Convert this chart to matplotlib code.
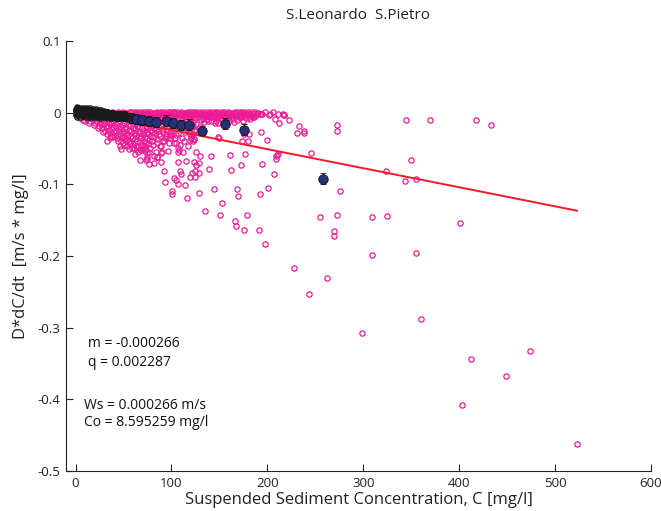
import matplotlib
matplotlib.use("Agg")
import matplotlib.pyplot as plt
import numpy as np

plt.rcParams['font.family'] = ['Open Sans', 'DejaVu Sans']

title = "S.Leonardo  S.Pietro"
xlabel = "Suspended Sediment Concentration, C [mg/l]"
ylabel = "D*dC/dt  [m/s * mg/l]"
xticks = [0, 100, 200, 300, 400, 500, 600]
xtick_labels = ["0", "100", "200", "300", "400", "500", "600"]
yticks = [-0.5, -0.4, -0.3, -0.2, -0.1, 0, 0.1]
ytick_labels = ["-0.5", "-0.4", "-0.3", "-0.2", "-0.1", "0", "0.1"]

slope_m = -0.000266
intercept_q = 0.002287
ws = 0.000266
co = 8.595259

# sparse magenta observations (C, D*dC/dt)
mag_sparse_c = [522.9, 474.3, 448.6, 412.8, 403.4, 359.7, 298.6, 344.8, 370.1, 417.4,
                433.3, 272.2, 272.9, 350.3, 323.2, 343.4, 355.2, 276.0, 254.5, 272.6,
                309.1, 324.3, 401.4, 269.1, 269.1, 308.6, 355.2, 228.1, 262.2, 243.4,
                245.1, 211.1, 208.6, 194.1, 207.0, 200.7, 192.4, 178.4, 165.9, 167.7,
                175.7, 190.9, 197.9, 168.4, 169.8, 172.9, 176.4, 161.5, 162.2, 200.0,
                193.0, 230.9, 237.8, 238.5, 233.0, 222.6, 212.5, 208.3, 201.8, 217.0,
                174.0, 179.9, 181.3, 140.9, 138.9, 152.8, 144.5, 150.7, 135.4, 116.4,
                128.4, 100.7, 101.0, 113.9, 93.0, 106.6, 104.5, 102.4, 119.1, 124.3,
                128.4, 110.4, 109.4, 92.4, 121.6, 124.3, 124.0, 128.4, 125.7, 107.3,
                114.9, 89.6, 81.6, 74.7, 67.4, 85.1, 89.6, 96.6, 76.4, 72.6,
                67.7, 106.6, 107.6, 109.1, 107.0, 126.0, 129.5, 87.8, 89.6, 55.5,
                119.8, 123.2, 99.0, 100.7, 145.5, 137.2, 122.6, 124.0, 122.6, 208.6,
                210.1, 148.2, 149.7, 175.7, 216.4, 217.7,
                35.7, 46.1, 56.6, 65.3, 72.2, 74.0, 83.6, 91.4, 94.8, 105.2, 112.2, 120.8,
                33.0, 38.2, 46.9, 62.5, 76.4, 85.1, 90.3, 73.5, 82.0]
mag_sparse_d = [-0.4626, -0.3324, -0.3668, -0.3435, -0.4082, -0.2877, -0.3073, -0.0107, -0.0102, -0.0102,
                -0.0167, -0.0172, -0.0261, -0.0656, -0.0813, -0.0953, -0.0925, -0.1092, -0.1450, -0.1432,
                -0.1450, -0.1437, -0.1534, -0.1650, -0.1715, -0.1980, -0.1953, -0.2162, -0.2305, -0.2534,
                -0.0568, -0.0582, -0.0642, -0.0715, -0.0851, -0.1050, -0.1130, -0.1427, -0.1506, -0.1586,
                -0.1642, -0.1632, -0.1827, -0.1070, -0.1158, -0.0729, -0.0572, -0.0586, -0.0795, -0.0377,
                -0.0269, -0.0283, -0.0289, -0.0251, -0.0191, -0.0102, -0.0144, -0.0084, -0.0028, -0.0028,
                -0.0395, -0.0395, -0.0303, -0.0604, -0.0785, -0.1255, -0.1060, -0.1432, -0.1377, -0.1195,
                -0.1116, -0.1088, -0.1139, -0.1008, -0.0972, -0.0990, -0.0939, -0.0911, -0.0897, -0.0902,
                -0.0847, -0.0861, -0.0809, -0.0819, -0.0837, -0.0813, -0.0693, -0.0702, -0.0729, -0.0683,
                -0.0674, -0.0688, -0.0702, -0.0642, -0.0660, -0.0614, -0.0562, -0.0540, -0.0554, -0.0502,
                -0.0506, -0.0544, -0.0516, -0.0450, -0.0492, -0.0544, -0.0604, -0.0470, -0.0460, -0.0512,
                -0.0381, -0.0367, -0.0321, -0.0311, -0.0149, -0.0084, -0.0293, -0.0363, -0.0400, -0.0609,
                -0.0586, -0.0344, -0.0358, -0.0297, -0.0018, -0.0032,
                -0.036, -0.046, -0.043, -0.048, -0.053, -0.062, -0.055, -0.039, -0.032, -0.043, -0.055, -0.036,
                -0.039, -0.034, -0.051, -0.058, -0.072, -0.062, -0.055, -0.066, -0.060]

# dense magenta band near zero
mag_band_c = [38, 44, 49, 53, 57, 61, 64, 68, 71, 75, 78, 82, 85, 89, 92, 96, 99, 103, 106, 110,
              113, 117, 120, 124, 127, 131, 134, 138, 141, 145, 148, 152, 155, 159, 162, 166, 169, 173, 176, 180,
              184, 187, 190, 194, 198, 203, 206, 211,
              42, 47, 51, 55, 59, 63, 66, 70, 73, 77, 80, 84, 87, 91, 94, 98, 101, 105, 108, 112,
              115, 119, 122, 126, 129, 133, 136, 140, 143, 147, 150, 154, 157, 161, 164, 168, 171, 175, 179, 183,
              188, 193,
              46, 54, 60, 67, 74, 81, 88, 95, 102, 110, 118, 125, 133, 140, 148, 156, 163, 171, 178, 186,
              115, 122, 131, 138, 146, 153, 160, 168, 175, 182, 150, 158, 170, 185,
              36, 39, 41, 45, 48, 50, 52, 56, 58, 62, 65, 67, 69, 72, 74, 76, 79, 81, 83, 86,
              88, 90, 93, 95, 97, 100, 102, 104, 107, 109, 111, 114, 116, 118, 121, 123, 125, 128, 130, 132,
              135, 137, 139, 142, 144, 146, 149, 151, 153, 156, 158, 160, 163, 165, 167, 170, 172, 174, 177, 179,
              181, 185, 189, 192,
              40, 45, 49, 53, 57, 61, 65, 69, 72, 76, 79, 83, 86, 90, 93, 97, 100, 104, 107, 111,
              114, 118, 121, 124, 128, 131, 135, 138, 142, 145, 149, 152, 156, 159, 163, 166, 170, 173, 177, 181,
              184,
              58, 64, 71, 77, 84, 91, 98, 105, 112, 119, 126, 134, 141, 149, 157, 165]
mag_band_d = [0.001, 0.0005, 0.0012, 0.0, 0.001, 0.0008, 0.0015, 0.0003, 0.0011, 0.0006, 0.0014, 0.0002, 0.001, 0.0007, 0.0013, 0.0004, 0.001, 0.0015, 0.0006, 0.0011,
              0.0002, 0.0013, 0.0008, 0.0015, 0.0004, 0.001, 0.0014, 0.0006, 0.0012, 0.0003, 0.001, 0.0015, 0.0007, 0.0012, 0.0002, 0.0011, 0.0014, 0.0005, 0.001, 0.0013,
              0.0004, 0.001, 0.0, -0.002, 0.001, -0.002, 0.0005, -0.0015,
              -0.003, -0.0025, -0.0035, -0.002, -0.004, -0.003, -0.0022, -0.0038, -0.0028, -0.0033, -0.002, -0.0036, -0.0026, -0.0031, -0.0021, -0.0039, -0.0027, -0.0033, -0.0022, -0.0037,
              -0.0029, -0.0024, -0.0035, -0.0021, -0.0032, -0.0027, -0.0038, -0.0023, -0.003, -0.0036, -0.0025, -0.0032, -0.0022, -0.0037, -0.0028, -0.0033, -0.0024, -0.0031, -0.0026, -0.0036,
              -0.003, -0.0022,
              -0.007, -0.006, -0.0085, -0.0065, -0.008, -0.0058, -0.0075, -0.009, -0.0062, -0.0078, -0.0055, -0.0072, -0.0088, -0.006, -0.0076, -0.0058, -0.0082, -0.0066, -0.0074, -0.0061,
              -0.011, -0.013, -0.010, -0.012, -0.011, -0.009, -0.012, -0.010, -0.011, -0.009, -0.005, -0.007, -0.004, -0.006,
              -0.0012, 0.0002, -0.0015, -0.0008, 0.0, -0.0018, -0.0005, -0.0012, 0.0004, -0.0016, -0.0006, 0.0, -0.0014, -0.0003, -0.0017, 0.0002, -0.0009, -0.0015, 0.0, -0.0011,
              -0.0004, -0.0017, 0.0001, -0.0013, -0.0006, -0.0016, 0.0003, -0.0009, -0.0014, -0.0002, -0.0018, -0.0007, 0.0002, -0.0013, -0.0005, -0.0016, 0.0001, -0.001, -0.0015, -0.0003,
              -0.0012, 0.0, -0.0017, -0.0006, -0.0011, 0.0002, -0.0014, -0.0008, -0.0016, -0.0002, -0.0012, 0.0001, -0.0015, -0.0006, -0.001, -0.0017, 0.0, -0.0013, -0.0005, -0.0016,
              -0.0009, -0.0012, -0.0004, -0.0014,
              -0.0055, -0.0048, -0.0062, -0.005, -0.0058, -0.0045, -0.0066, -0.0052, -0.0047, -0.006, -0.0068, -0.0049, -0.0056, -0.0063, -0.0046, -0.0054, -0.0069, -0.005, -0.0059, -0.0044,
              -0.0065, -0.0053, -0.0048, -0.0061, -0.0057, -0.0046, -0.0064, -0.0051, -0.0055, -0.0067, -0.0048, -0.0058, -0.0045, -0.0062, -0.0052, -0.0049, -0.0065, -0.0054, -0.0047, -0.006,
              -0.0052,
              -0.012, -0.015, -0.011, -0.017, -0.013, -0.016, -0.012, -0.018, -0.014, -0.011, -0.016, -0.013, -0.012, -0.015, -0.011, -0.013]

# dense magenta cluster below the fit line at low C
mag_low_c = [5, 8, 10, 12, 15, 18, 20, 22, 24, 26, 28, 30, 31, 33, 34, 36, 37, 38, 40, 41,
             42, 43, 44, 45, 46, 47, 48, 49, 50, 51, 52, 53, 54, 55, 56, 57, 58, 59, 60, 61,
             62, 63, 64, 65, 66, 67, 68, 69, 70, 71, 72, 73, 74, 75, 76, 78, 79, 80, 82, 83,
             85, 86, 88, 90, 92, 94, 96, 98, 100, 103, 105, 108, 111, 114, 117, 120, 123,
             14, 16, 19, 21, 23, 25, 27, 29, 30, 32, 33, 35, 35, 37, 39, 39, 40, 42, 43, 44,
             45, 46, 47, 48, 49, 50, 51, 52, 53, 54, 55, 56, 57, 58, 59, 60, 61, 62, 63, 64,
             65, 66, 67, 68, 69, 70, 71, 72, 73, 74, 75, 76, 77, 78, 79, 80, 81, 82, 84, 85,
             87, 89, 91, 93, 95, 97, 99, 101, 104, 107, 110, 113, 116, 119, 122, 126, 130]
mag_low_d = [-0.007, -0.010, -0.012, -0.009, -0.012, -0.010, -0.015, -0.011, -0.018, -0.013, -0.021, -0.016, -0.025, -0.012, -0.019, -0.028, -0.015, -0.023, -0.032, -0.018,
             -0.026, -0.036, -0.014, -0.021, -0.030, -0.040, -0.017, -0.025, -0.034, -0.045, -0.020, -0.029, -0.038, -0.016, -0.024, -0.043, -0.032, -0.050, -0.021, -0.028,
             -0.037, -0.046, -0.018, -0.025, -0.033, -0.041, -0.052, -0.022, -0.030, -0.039, -0.047, -0.019, -0.027, -0.036, -0.044, -0.024, -0.032, -0.040, -0.021, -0.029,
             -0.037, -0.026, -0.033, -0.023, -0.040, -0.030, -0.019, -0.036, -0.025, -0.042, -0.031, -0.022, -0.035, -0.027, -0.046, -0.033, -0.024,
             -0.014, -0.008, -0.017, -0.012, -0.022, -0.009, -0.016, -0.027, -0.011, -0.020, -0.030, -0.014, -0.024, -0.033, -0.011, -0.020, -0.027, -0.016, -0.031, -0.039,
             -0.025, -0.012, -0.020, -0.034, -0.043, -0.028, -0.015, -0.037, -0.023, -0.047, -0.031, -0.040, -0.018, -0.026, -0.035, -0.044, -0.049, -0.023, -0.031, -0.039,
             -0.055, -0.020, -0.028, -0.036, -0.045, -0.050, -0.025, -0.034, -0.042, -0.056, -0.022, -0.030, -0.038, -0.049, -0.018, -0.027, -0.045, -0.034, -0.024, -0.042,
             -0.030, -0.018, -0.027, -0.035, -0.024, -0.043, -0.030, -0.021, -0.036, -0.028, -0.019, -0.040, -0.023, -0.030, -0.019, -0.026, -0.020]

# black observations (low concentrations)
blk_c = [0, 0, 0, 0, 1, 1, 1, 2, 2, 2, 3, 3, 3, 4, 4, 5, 5, 5, 6, 6,
         7, 7, 7, 8, 8, 9, 9, 10, 10, 11, 11, 12, 12, 13, 13, 14, 14, 15, 15, 16,
         17, 17, 18, 19, 20, 20, 21, 22, 23, 23, 24, 25, 25, 26, 27, 28, 29, 30, 30, 31,
         32, 33, 34, 35, 36, 37, 38, 39, 40, 41, 42, 43, 44, 45, 46, 47, 48, 49, 50, 52, 54,
         0.5, 1.5, 2.5, 3.5, 4.5, 5.5, 6.5, 7.5, 8.5, 9.5, 10.5, 11.5, 12.5, 13.5, 14.5, 15.5, 16.5, 17.5, 18.5, 19.5,
         21, 22, 23.5, 24.5, 26, 27, 28.5, 29.5, 31, 32, 33.5, 34.5, 36, 37, 38, 39.5, 40.5, 42, 43, 44.5,
         45.5, 47, 48.5, 50, 51, 53, 55, 56,
         1, 3, 6, 9, 12, 15, 18, 21, 24, 27, 30, 33,
         2, 5, 8, 11, 14, 17, 20, 23, 26, 29, 33, 37, 41, 45, 49, 53, 57]
blk_d = [0.005, 0.002, -0.001, -0.003, 0.004, 0.0, -0.002, 0.006, 0.003, -0.002, 0.005, 0.001, -0.003, 0.004, 0.0, 0.005, 0.002, -0.002, 0.003, -0.001,
         0.004, 0.0, -0.003, 0.005, 0.001, 0.003, -0.002, 0.004, 0.0, 0.002, -0.003, 0.003, -0.001, 0.004, 0.0, 0.001, -0.003, 0.003, -0.002, 0.002,
         0.0, -0.004, 0.002, -0.001, 0.001, -0.004, 0.0, -0.002, 0.001, -0.004, -0.001, 0.0, -0.005, -0.002, -0.001, -0.004, -0.002, -0.003, -0.005, -0.001,
         -0.004, -0.002, -0.005, -0.003, -0.004, -0.002, -0.005, -0.003, -0.006, -0.004, -0.003, -0.006, -0.004, -0.005, -0.007, -0.004, -0.006, -0.005, -0.007, -0.005, -0.006,
         0.0035, 0.0055, 0.0005, -0.001, 0.0025, -0.0035, 0.0045, 0.002, -0.001, 0.0045, 0.0015, -0.001, 0.0045, 0.002, -0.0005, 0.004, -0.002, 0.0025, 0.0, -0.003,
         0.003, 0.0005, -0.0025, 0.002, -0.004, 0.001, -0.0015, 0.0005, -0.006, -0.0015, -0.0035, 0.0, -0.006, -0.003, -0.0005, -0.006, -0.002, -0.0045, -0.0015, -0.0065,
         -0.003, -0.0055, -0.002, -0.0045, -0.006, -0.003, -0.0045, -0.007,
         0.0072, 0.0068, 0.0070, 0.0065, 0.0062, 0.0058, 0.0052, 0.0045, 0.0038, 0.0030, 0.0022, 0.0012,
         -0.0055, -0.0058, -0.0052, -0.0060, -0.0056, -0.0062, -0.0065, -0.0061, -0.0068, -0.0066, -0.0072, -0.0070, -0.0075, -0.0078, -0.0076, -0.0082, -0.0080]

# bin means with error bars
bin_c = [31.3, 37.5, 43.8, 50.0, 57.3, 63.5, 69.8, 77.1, 84.4, 93.8, 102.0, 110.4, 118.8, 132.3, 156.3, 176.0, 258.3]
bin_d = [-0.0014, -0.0028, -0.0042, -0.0042, -0.0070, -0.0084, -0.0098, -0.0112, -0.0126, -0.0112, -0.0140, -0.0167, -0.0167, -0.0251, -0.0153, -0.0237, -0.0920]
bin_err = [0.006, 0.006, 0.006, 0.006, 0.007, 0.007, 0.007, 0.007, 0.007, 0.008, 0.007, 0.007, 0.008, 0.006, 0.008, 0.008, 0.008]

fig = plt.figure(figsize=(6.61, 5.11), dpi=100)
ax = fig.add_axes([0.0998, 0.0783, 0.885, 0.8415])

mag = '#EC1C96'
ax.plot(mag_band_c, mag_band_d, 'o', ms=3.8, mfc='none', mec=mag, mew=0.9, zorder=2)
ax.plot(mag_low_c, mag_low_d, 'o', ms=3.8, mfc='none', mec=mag, mew=0.9, zorder=2)
ax.plot(mag_sparse_c, mag_sparse_d, 'o', ms=3.8, mfc='none', mec=mag, mew=0.9, zorder=2)

all_c = mag_band_c + mag_low_c + mag_sparse_c + blk_c
cmin, cmax = min(all_c), max(all_c)
xl = np.array([cmin, cmax])
ax.plot(xl, slope_m * xl + intercept_q, color='#EE1C24', lw=1.4, zorder=4)

ax.errorbar(bin_c, bin_d, yerr=bin_err, fmt='o', ms=6.8, mfc='#26307A', mec='#111111',
            mew=0.6, ecolor='#111111', elinewidth=0.8, capsize=2.2, capthick=0.8, zorder=5)

ax.plot(blk_c, blk_d, 'o', ms=3.8, mfc='none', mec='#1a1a1a', mew=0.9, zorder=6)

ax.set_xlim(-10, 600)
ax.set_ylim(-0.5, 0.1)
ax.set_xticks(xticks)
ax.set_xticklabels(xtick_labels)
ax.set_yticks(yticks)
ax.set_yticklabels(ytick_labels)
ax.tick_params(direction='in', length=5, width=0.8, labelsize=9.5, colors='#222222', pad=4)
for s in ['top', 'right']:
    ax.spines[s].set_visible(False)
for s in ['left', 'bottom']:
    ax.spines[s].set_linewidth(0.8)
    ax.spines[s].set_color('#222222')

ax.set_title(title, fontsize=11, pad=16, color='#222222')
ax.set_xlabel(xlabel, fontsize=12, labelpad=2, color='#222222')
ax.set_ylabel(ylabel, fontsize=12, labelpad=6, color='#222222')

ax.text(12.5, -0.322, "m = -0.000266", fontsize=10, va='center', color='#111111')
ax.text(12.5, -0.348, "q = 0.002287", fontsize=10, va='center', color='#111111')
ax.text(8.5, -0.408, "Ws = %.6f m/s" % ws, fontsize=10, va='center', color='#111111')
ax.text(8.5, -0.433, "Co = %.6f mg/l" % co, fontsize=10, va='center', color='#111111')

fig.savefig("out.png", dpi=100)
